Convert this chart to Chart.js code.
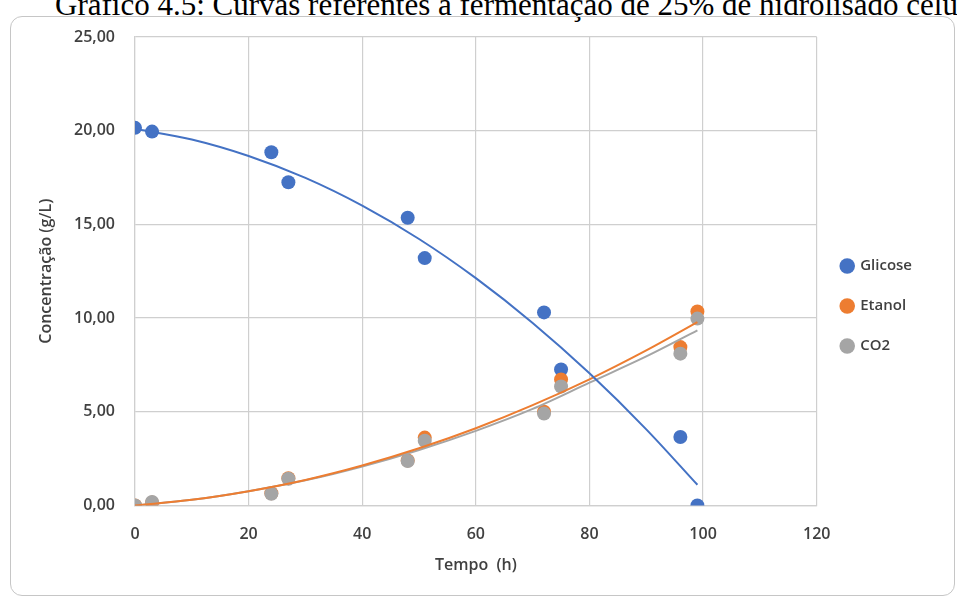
<!DOCTYPE html>
<html>
<head>
<meta charset="utf-8">
<script src="https://cdn.jsdelivr.net/npm/chart.js@4/dist/chart.umd.min.js"></script>
<style>
  html, body { margin: 0; padding: 0; background: #fff; }
  body { width: 957px; height: 599px; position: relative; overflow: hidden; }
  #title {
    position: absolute; left: 55px; top: -11px; white-space: nowrap;
    font-family: "Liberation Serif", "Times New Roman", serif; font-size: 31px; line-height: 31px; color: #000;
  }
  #frame {
    position: absolute; left: 10px; top: 16px; width: 943px; height: 578px;
    border: 1.5px solid #c6c6c6; border-radius: 12px;
  }
  #wrap { position: absolute; left: 0; top: 0; width: 957px; height: 599px; }
</style>
</head>
<body>
<div id="title">Gráfico 4.5: Curvas referentes à fermentação de 25% de hidrolisado celulósico</div>
<div id="frame"></div>
<div id="wrap"><canvas id="chart"></canvas></div>
<script>
// measured times (h)
const tempo = [0, 3, 24, 27, 48, 51, 72, 75, 96, 99];
const glicose = [20.15, 19.95, 18.85, 17.25, 15.35, 13.2, 10.3, 7.25, 3.65, 0.0];
const etanol = [0.0, 0.15, 0.65, 1.45, 2.4, 3.62, 5.0, 6.72, 8.45, 10.35];
const co2 = [0.0, 0.18, 0.62, 1.42, 2.37, 3.45, 4.9, 6.35, 8.1, 9.97];

// trend lines
const trendX = [0, 10, 20, 30, 40, 50, 60, 70, 80, 90, 99];
const trendGlicose = [20.1, 19.53, 18.65, 17.48, 16.0, 14.22, 12.13, 9.74, 7.05, 4.06, 1.1];
const trendEtanol = [0.0, 0.3, 0.76, 1.36, 2.13, 3.05, 4.12, 5.35, 6.73, 8.27, 9.78];
const trendCo2 = [0.0, 0.3, 0.76, 1.34, 2.08, 2.96, 3.98, 5.15, 6.55, 7.95, 9.34];

const xTicks = [0, 20, 40, 60, 80, 100, 120];
const yTicks = [0, 5, 10, 15, 20, 25];

const BLUE = '#4472C4';
const ORANGE = '#ED7D31';
const GRAY = '#A5A5A5';

function toPoints(xs, ys) {
  return xs.map((x, i) => ({ x: x, y: ys[i] }));
}

function pointSet(label, ys, color, order) {
  return {
    label: label,
    data: toPoints(tempo, ys),
    backgroundColor: color,
    borderColor: color,
    borderWidth: 0,
    pointRadius: 7,
    pointHoverRadius: 7,
    showLine: false,
    order: order
  };
}

function trendSet(ys, color) {
  return {
    label: 'trend',
    data: toPoints(trendX, ys),
    borderColor: color,
    backgroundColor: color,
    borderWidth: 2,
    pointRadius: 0,
    showLine: true,
    tension: 0.4,
    cubicInterpolationMode: 'monotone',
    order: 0
  };
}

const tickFont = { family: 'Open Sans', size: 16, weight: '600' };
const titleFont = { family: 'Open Sans', size: 16, weight: '600' };
const txtColor = '#404040';
const gridColor = '#cfcfcf';

new Chart(document.getElementById('chart'), {
  type: 'scatter',
  data: {
    datasets: [
      pointSet('Glicose', glicose, BLUE, 3),
      pointSet('Etanol', etanol, ORANGE, 2),
      pointSet('CO2', co2, GRAY, 1),
      trendSet(trendGlicose, BLUE),
      trendSet(trendEtanol, ORANGE),
      trendSet(trendCo2, GRAY)
    ]
  },
  options: {
    responsive: true,
    maintainAspectRatio: false,
    animation: false,
    layout: { padding: { left: 37, top: 37, bottom: 24, right: 35 } },
    plugins: {
      tooltip: { enabled: false },
      legend: {
        position: 'right',
        labels: {
          usePointStyle: true,
          pointStyle: 'circle',
          boxWidth: 11,
          boxHeight: 11,
          padding: 25,
          color: txtColor,
          font: { family: 'Open Sans', size: 15, weight: '600' },
          filter: (item) => item.text !== 'trend',
          sort: (a, b) => a.datasetIndex - b.datasetIndex
        }
      }
    },
    scales: {
      x: {
        type: 'linear',
        min: 0,
        max: 120,
        afterBuildTicks: (s) => { s.ticks = xTicks.map(v => ({ value: v })); },
        afterFit: (s) => { s.height = 69.6; },
        grid: { color: gridColor, lineWidth: 1.2, drawTicks: false },
        border: { color: gridColor, width: 1.2 },
        ticks: { color: txtColor, font: tickFont, padding: 19 },
        title: { display: true, text: 'Tempo  (h)', color: txtColor, font: titleFont, padding: 0 }
      },
      y: {
        type: 'linear',
        min: 0,
        max: 25,
        afterBuildTicks: (s) => { s.ticks = yTicks.map(v => ({ value: v })); },
        afterFit: (s) => { s.width = 98; },
        grid: { color: gridColor, lineWidth: 1.2, drawTicks: false },
        border: { color: gridColor, width: 1.2 },
        ticks: {
          color: txtColor,
          font: tickFont,
          padding: 20,
          callback: (v) => v.toFixed(2).replace('.', ',')
        },
        title: { display: true, text: 'Concentração (g/L)', color: txtColor, font: titleFont, padding: 0 }
      }
    }
  }
});
</script>
</body>
</html>
